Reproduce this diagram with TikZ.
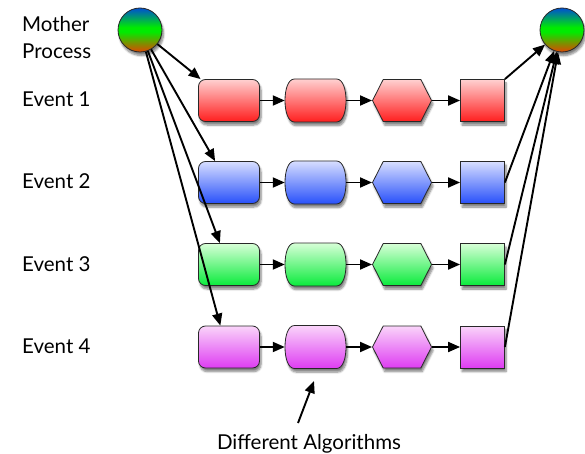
\documentclass[tikz,border=0pt]{standalone}
\usepackage{fontspec}
\setmainfont{Lato}
\usetikzlibrary{shapes.misc,shapes.symbols,shadows.blur,arrows.meta}
\definecolor{rtop}{RGB}{255,208,208}\definecolor{rbot}{RGB}{255,30,30}
\definecolor{btop}{RGB}{215,222,255}\definecolor{bbot}{RGB}{40,80,250}
\definecolor{gtop}{RGB}{215,255,215}\definecolor{gbot}{RGB}{10,235,60}
\definecolor{ptop}{RGB}{250,212,250}\definecolor{pbot}{RGB}{222,60,242}
\definecolor{edge}{RGB}{40,40,40}
\pgfdeclareverticalshading{mothershade}{100bp}{color(0bp)=(rgb,255:red,225;green,70;blue,0);
 color(25bp)=(rgb,255:red,225;green,70;blue,0);
 color(48bp)=(rgb,255:red,0;green,235;blue,0);
 color(53bp)=(rgb,255:red,0;green,235;blue,0);
 color(75bp)=(rgb,255:red,0;green,80;blue,210);
 color(100bp)=(rgb,255:red,0;green,80;blue,210)}
\tikzset{
  shadowed/.style={blur shadow={shadow blur steps=6, shadow xshift=1.5pt, shadow yshift=-3.5pt, shadow opacity=50}},
  outline/.style={draw=edge, line width=0.8pt},
  shp/.style={outline, shadowed, minimum height=42pt, inner sep=0pt},
  boxa/.style={shp, rectangle, rounded corners=7pt, minimum width=61pt},
  boxbanchor/.style={rectangle, minimum width=61pt, minimum height=43pt, inner sep=0pt},
  boxc/.style={shp, signal, signal to=east and west, signal pointer angle=126, minimum width=59pt},
  boxd/.style={shp, rectangle, minimum width=44pt},
  red/.style={top color=rtop, bottom color=rbot},
  blue/.style={top color=btop, bottom color=bbot},
  green/.style={top color=gtop, bottom color=gbot},
  purple/.style={top color=ptop, bottom color=pbot},
  mother/.style={circle, outline, shadowed, minimum size=44pt, inner sep=0pt, shading=mothershade},
  lbl/.style={font=\fontsize{20.5}{24}\selectfont, inner sep=0pt},
  arr/.style={line width=1.9pt, -{Triangle[length=12pt,width=10pt]}},
}
\begin{document}
\begin{tikzpicture}[x=1pt,y=-1pt]
\useasboundingbox (0,0) rectangle (585,454);
\node[mother] (mL) at (140,30) {};
\node[mother] (mR) at (562,30) {};
\node[lbl, anchor=base west] (t0a) at (22,32) {Mother};
\node[lbl, anchor=base west] (t0b) at (22,59) {Process};
\foreach \i/\y/\c/\t in {1/100.5/red/Event 1, 2/182.5/blue/Event 2, 3/264.5/green/Event 3, 4/347/purple/Event 4}{
  \node[lbl, anchor=base west] (t\i) at (22,\y+6.5) {\t};
  \node[boxa,\c] (a\i) at (229,\y) {};
  \begin{scope}[shift={(315.5,\y)}]
    \path[outline, shadowed, \c] (-21,-21.5) -- (21,-21.5)
      .. controls (27.5,-21.5) and (30.5,-11) .. (30.5,0)
      .. controls (30.5,11) and (27.5,21.5) .. (21,21.5)
      -- (-21,21.5)
      .. controls (-27.5,21.5) and (-30.5,11) .. (-30.5,0)
      .. controls (-30.5,-11) and (-27.5,-21.5) .. (-21,-21.5) -- cycle;
  \end{scope}
  \node[boxbanchor] (b\i) at (315.5,\y) {};
  \node[boxc,\c] (c\i) at (402,\y) {};
  \node[boxd,\c] (d\i) at (482.5,\y) {};
  \draw[arr] (a\i) -- (b\i);
  \draw[arr] (b\i) -- (c\i);
  \draw[arr] (c\i) -- (d\i);
}
\draw[arr] (mL) -- (a1.143);
\draw[arr] (mL) -- (a2.123);
\draw[arr] (mL) -- (a3.113);
\draw[arr] (mL) -- (a4.112);
\draw[arr] (d1.north east) -- (mR);
\draw[arr] (d2.east) -- (mR);
\draw[arr] (d3.east) -- (mR);
\draw[arr] (d4.east) -- (mR);
\node[lbl, anchor=base] (alg) at (309,449) {Different Algorithms};
\coordinate (algtail) at (298,423);
\coordinate (alghead) at (314,381);
\draw[arr] (algtail) -- (alghead);
\end{tikzpicture}
\end{document}
